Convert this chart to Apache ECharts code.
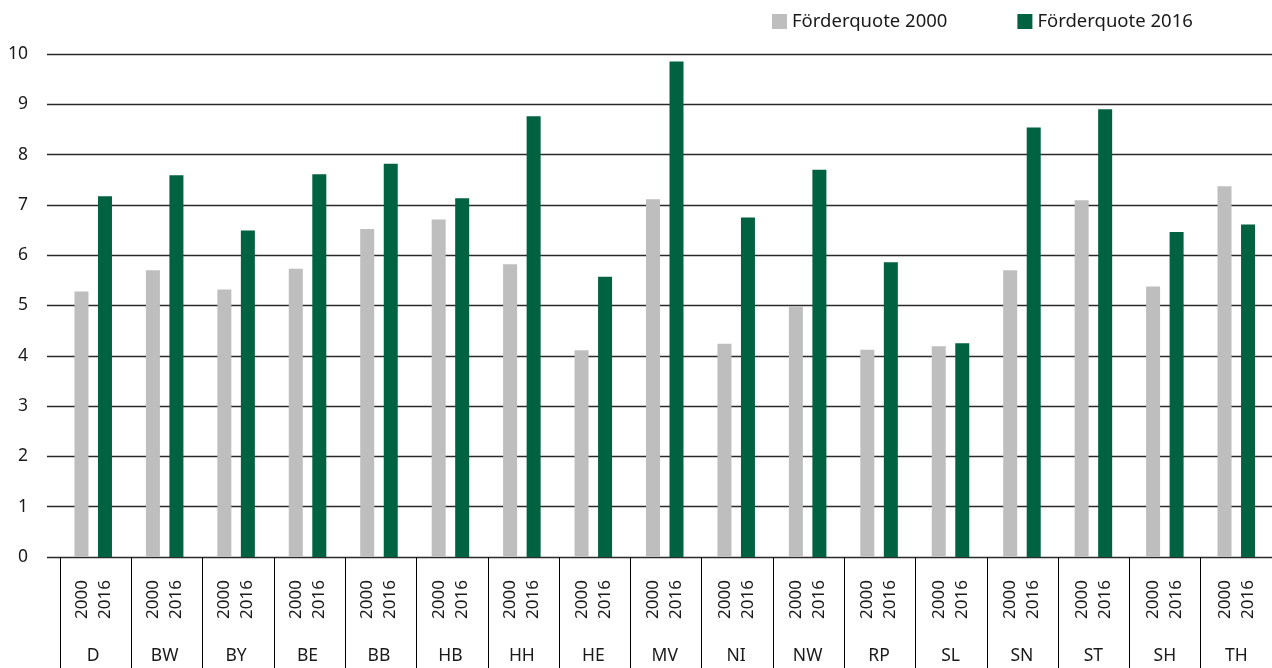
<!DOCTYPE html>
<html>
<head>
<meta charset="utf-8">
<script src="https://cdn.jsdelivr.net/npm/echarts@6/dist/echarts.min.js"></script>
<style>
  html, body { margin: 0; padding: 0; background: #fff; }
  #main { width: 1272px; height: 668px; }
</style>
</head>
<body>
<div id="main"></div>
<script>
// Bundesländer (plus D = Deutschland)
const categories = ['D', 'BW', 'BY', 'BE', 'BB', 'HB', 'HH', 'HE', 'MV', 'NI', 'NW', 'RP', 'SL', 'SN', 'ST', 'SH', 'TH'];
const years = ['2000', '2016'];
const seriesNames = ['Förderquote 2000', 'Förderquote 2016'];

const quote2000 = [5.28, 5.70, 5.32, 5.73, 6.52, 6.71, 5.82, 4.11, 7.11, 4.24, 4.99, 4.12, 4.19, 5.70, 7.09, 5.38, 7.37];
const quote2016 = [7.17, 7.59, 6.49, 7.61, 7.82, 7.13, 8.76, 5.57, 9.85, 6.75, 7.70, 5.86, 4.25, 8.54, 8.90, 6.46, 6.61];

const yMin = 0, yMax = 10, yStep = 1;

const FONT = 'Noto Sans';
const TXT = '#1a1a1a';

const chart = echarts.init(document.getElementById('main'));

const hiddenY = (gi) => ({ gridIndex: gi, type: 'value', min: yMin, max: yMax, interval: yStep, show: false });

const option = {
    animation: false,
    textStyle: { fontFamily: FONT, color: TXT },
    legend: {
        left: 772,
        top: 12,
        padding: 0,
        itemWidth: 15,
        itemHeight: 15,
        itemGap: 70,
        icon: 'rect',
        textStyle: { fontFamily: FONT, fontSize: 18.5, color: TXT },
        data: seriesNames
    },
    grid: [
        { left: 47, right: 0, top: 54, bottom: 111 },      // y axis + gridlines
        { left: 57.5, right: -5.5, top: 54, bottom: 111 }, // bars + labels
        { left: 60, right: -8, top: 54, bottom: 111 }      // separators
    ],
    xAxis: [
        { gridIndex: 0, type: 'category', data: [''], show: false },
        {
            gridIndex: 1, type: 'category', data: categories, position: 'bottom',
            axisLine: { show: false }, axisTick: { show: false },
            axisLabel: {
                interval: 0, rotate: 90, margin: 23, fontSize: 17, lineHeight: 23,
                color: TXT, fontFamily: FONT,
                formatter: () => years.join('\n')
            }
        },
        {
            gridIndex: 1, type: 'category', data: categories, position: 'bottom',
            axisLine: { show: false }, axisTick: { show: false },
            axisLabel: { interval: 0, margin: 90, fontSize: 17.5, color: TXT, fontFamily: FONT }
        },
        {
            gridIndex: 2, type: 'category', data: categories, position: 'bottom',
            axisLine: { show: false },
            axisLabel: { show: false },
            axisTick: { show: true, interval: 0, length: 111, lineStyle: { color: '#000', width: 1 } }
        }
    ],
    yAxis: [
        {
            gridIndex: 0, type: 'value', min: yMin, max: yMax, interval: yStep,
            axisLine: { show: false }, axisTick: { show: false },
            axisLabel: { margin: 19, fontSize: 17.5, color: TXT, fontFamily: FONT },
            splitLine: { lineStyle: { color: '#2a2a2a', width: 1.3 } }
        },
        hiddenY(1),
        hiddenY(2)
    ],
    series: [
        {
            name: seriesNames[0], type: 'bar', xAxisIndex: 1, yAxisIndex: 1,
            data: quote2000, barWidth: 14, barGap: '68%',
            itemStyle: { color: '#bdbebd' }
        },
        {
            name: seriesNames[1], type: 'bar', xAxisIndex: 1, yAxisIndex: 1,
            data: quote2016, barWidth: 14, barGap: '68%',
            itemStyle: { color: '#006241' }
        }
    ]
};

chart.setOption(option);
</script>
</body>
</html>
